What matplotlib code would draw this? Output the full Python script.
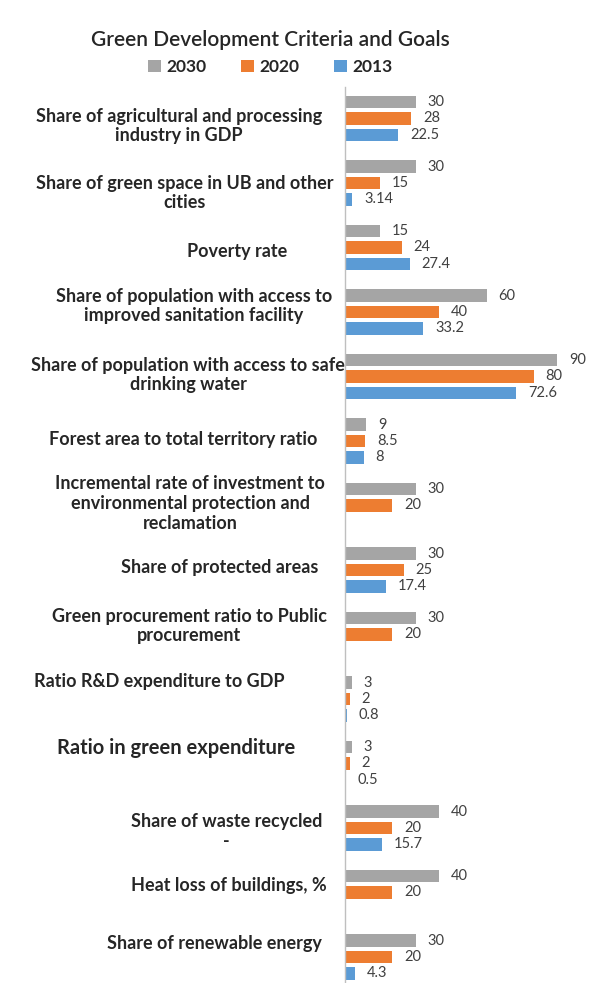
import matplotlib
matplotlib.use("Agg")
import matplotlib.pyplot as plt
import numpy as np

categories = [
    "Share of agricultural and processing\nindustry in GDP",
    "Share of green space in UB and other\ncities",
    "Poverty rate",
    "Share of population with access to\nimproved sanitation facility",
    "Share of population with access to safe\ndrinking water",
    "Forest area to total territory ratio",
    "Incremental rate of investment to\nenvironmental protection and\nreclamation",
    "Share of protected areas",
    "Green procurement ratio to Public\nprocurement",
    "Ratio R&D expenditure to GDP",
    "Ratio in green expenditure",
    "Share of waste recycled\n-",
    "Heat loss of buildings, %",
    "Share of renewable energy",
]
series_names = ["2030", "2020", "2013"]
v2030 = [30, 30, 15, 60, 90, 9, 30, 30, 30, 3, 3, 40, 40, 30]
v2020 = [28, 15, 24, 40, 80, 8.5, 20, 25, 20, 2, 2, 20, 20, 20]
v2013 = [22.5, 3.14, 27.4, 33.2, 72.6, 8, None, 17.4, None, 0.8, 0.5, 15.7, None, 4.3]
value_labels = {
    "2030": ["30", "30", "15", "60", "90", "9", "30", "30", "30", "3", "3", "40", "40", "30"],
    "2020": ["28", "15", "24", "40", "80", "8.5", "20", "25", "20", "2", "2", "20", "20", "20"],
    "2013": ["22.5", "3.14", "27.4", "33.2", "72.6", "8", "", "17.4", "", "0.8", "0.5", "15.7", "", "4.3"],
}

# ---- layout (pixel placement of the hand-positioned category labels) ----
label_right_px = [322, 333, 287, 332, 345, 317, 325, 318, 327, 285, 295, 322, 327, 322]
label_dy_px = [7.5, 10, 4.5, -6, -1.5, -1.5, -2, -3, -8.5, -18, -15, 3.5, -7, -14]

colors = ["#A5A5A5", "#ED7D31", "#5B9BD5"]
FONT = ["Lato", "DejaVu Sans"]

W, H = 589, 983
fig = plt.figure(figsize=(W / 100, H / 100), dpi=100)
axis_x = 345
ax_left = axis_x / W
ax_top_px = 87
ax = fig.add_axes([ax_left, 0.0, 1 - ax_left, 1 - ax_top_px / H])

group_px = 64.5
first_center_px = 118.5
px_per_unit = 2.36

n = len(categories)
ypos = np.arange(n)
slot = 16.3 / group_px
height = 12.5 / group_px
handles = []
for k, (name, vals, col) in enumerate(zip(series_names, [v2030, v2020, v2013], colors)):
    yy, ww, labs = [], [], []
    for i, v in enumerate(vals):
        if v is None:
            continue
        yy.append(ypos[i] + (k - 1) * slot)
        ww.append(v)
        labs.append(value_labels[name][i])
    bars = ax.barh(yy, ww, height=height, color=col, label=name)
    handles.append(bars)
    for b, lab in zip(bars, labs):
        ax.annotate(lab, (b.get_width(), b.get_y() + b.get_height() / 2),
                    xytext=(8.5, 0), textcoords="offset points",
                    ha="left", va="center", fontsize=10.5, color="#404040",
                    family=FONT)

ax.set_xlim(0, (W - axis_x) / px_per_unit)
ax.set_ylim(n - 1 + (H - (first_center_px + (n - 1) * group_px)) / group_px,
            -(first_center_px - ax_top_px) / group_px)
for s in ["top", "right", "bottom"]:
    ax.spines[s].set_visible(False)
ax.spines["left"].set_color("#BFBFBF")
ax.spines["left"].set_linewidth(1.0)
ax.set_xticks([])
ax.set_yticks([])

for i, cat in enumerate(categories):
    fs = 13
    if cat.startswith("Ratio in green"):
        fs = 14.5
    xr = label_right_px[i] / W
    yc = 1 - (first_center_px + i * group_px + label_dy_px[i]) / H
    fig.text(xr, yc, cat, ha="right", va="center",
             multialignment="center", fontsize=fs, fontweight="bold",
             color="#262626", family=FONT, linespacing=1.2)

fig.text(270 / W, 1 - 40 / H, "Green Development Criteria and Goals", ha="center",
         va="center", fontsize=15, fontweight="semibold", color="#262626", family=FONT)

leg = fig.legend(handles=handles, labels=series_names, loc="center",
                 bbox_to_anchor=(270 / W, 1 - 67 / H), ncol=3, frameon=False,
                 prop={"family": FONT, "size": 12.5, "weight": "bold"},
                 handlelength=0.75, handleheight=0.75, handletextpad=0.3,
                 columnspacing=2.0)
for t in leg.get_texts():
    t.set_color("#262626")

fig.savefig("out.png", dpi=100)
